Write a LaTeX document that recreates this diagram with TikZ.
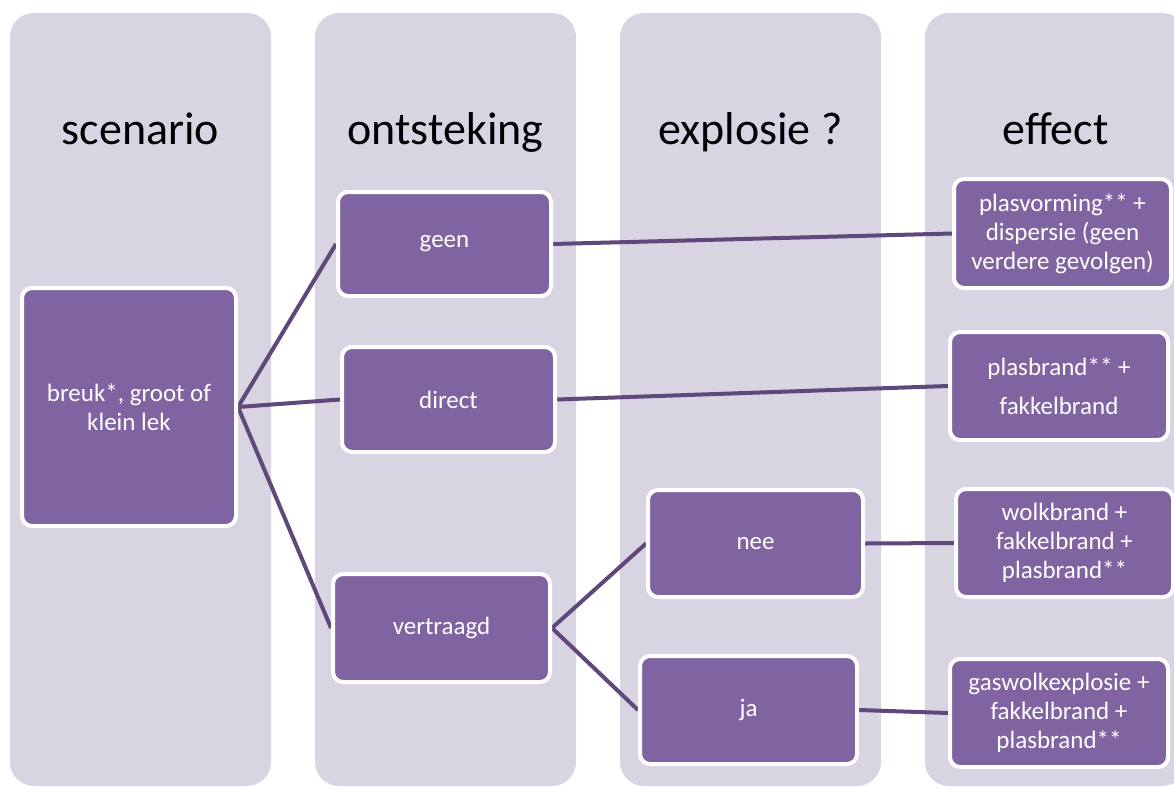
\documentclass[tikz,border=0pt]{standalone}
\usepackage{fontspec}
\setmainfont{Carlito}
\pgfdeclarelayer{back}
\pgfdeclarelayer{links}
\pgfsetlayers{back,links,main}
\definecolor{lane}{HTML}{D8D4E2}
\definecolor{boxfill}{HTML}{8064A2}
\definecolor{linkcol}{HTML}{5F497A}
\tikzset{
  lanebox/.style={fill=lane, rounded corners=24pt},
  header/.style={anchor=base, font=\fontsize{46}{52}\selectfont, text=black},
  stepbox/.style={draw=white, line width=4pt, fill=boxfill, rounded corners=10pt,
    inner sep=0pt, align=center, text=white, font=\fontsize{25}{29}\selectfont},
  link/.style={draw=linkcol, line width=4pt}
}
\begin{document}
\begin{tikzpicture}[x=1pt, y=-1pt]
\clip (0,0) rectangle (1174,787);

% white page and four lanes
\begin{pgfonlayer}{back}
\fill[white] (0,0) rectangle (1174,787);
\fill[lanebox] (10,13) rectangle (271,786);
\fill[lanebox] (315,13) rectangle (576,786);
\fill[lanebox] (620,13) rectangle (881,786);
\fill[lanebox] (925,13) rectangle (1186,786);
\end{pgfonlayer}

% lane titles
\node[header] (h1) at (140.5,144) {scenario};
\node[header] (h2) at (445.5,144) {ontsteking};
\node[header] (h3) at (750.5,144) {explosie ?};
\node[header] (h4) at (1055.5,144) {effect};

% boxes
\node[stepbox, minimum width=214pt, minimum height=238pt] (breuk) at (129,407) {breuk*, groot of\\klein lek};
\node[stepbox, minimum width=213pt, minimum height=104pt] (geen) at (444.5,244) {geen};
\node[stepbox, minimum width=213pt, minimum height=105pt] (direct) at (448.5,399.5) {direct};
\node[stepbox, minimum width=217pt, minimum height=108pt] (vertraagd) at (441.5,628) {vertraagd};
\node[stepbox, minimum width=215pt, minimum height=107pt] (nee) at (755.5,543.5) {nee};
\node[stepbox, minimum width=217pt, minimum height=108pt] (ja) at (748.5,710) {ja};
\node[stepbox, minimum width=217pt, minimum height=109pt] (e1) at (1062.5,233.5) {plasvorming** +\\dispersie (geen\\verdere gevolgen)};
\node[stepbox, minimum width=218pt, minimum height=108pt] (e2) at (1059,386) {plasbrand** +\\[10pt]fakkelbrand};
\node[stepbox, minimum width=217pt, minimum height=108pt] (e3) at (1064.5,543) {wolkbrand +\\fakkelbrand +\\plasbrand**};
\node[stepbox, minimum width=218pt, minimum height=108pt] (e4) at (1059,713) {gaswolkexplosie +\\fakkelbrand +\\plasbrand**};

% connectors
\begin{pgfonlayer}{links}
\draw[link] (breuk.east) -- (geen.west);
\draw[link] (breuk.east) -- (direct.west);
\draw[link] (breuk.east) -- (vertraagd.west);
\draw[link] (geen.east) -- (e1.west);
\draw[link] (direct.east) -- (e2.west);
\draw[link] (vertraagd.east) -- (nee.west);
\draw[link] (vertraagd.east) -- (ja.west);
\draw[link] (nee.east) -- (e3.west);
\draw[link] (ja.east) -- (e4.west);
\end{pgfonlayer}
\end{tikzpicture}
\end{document}
